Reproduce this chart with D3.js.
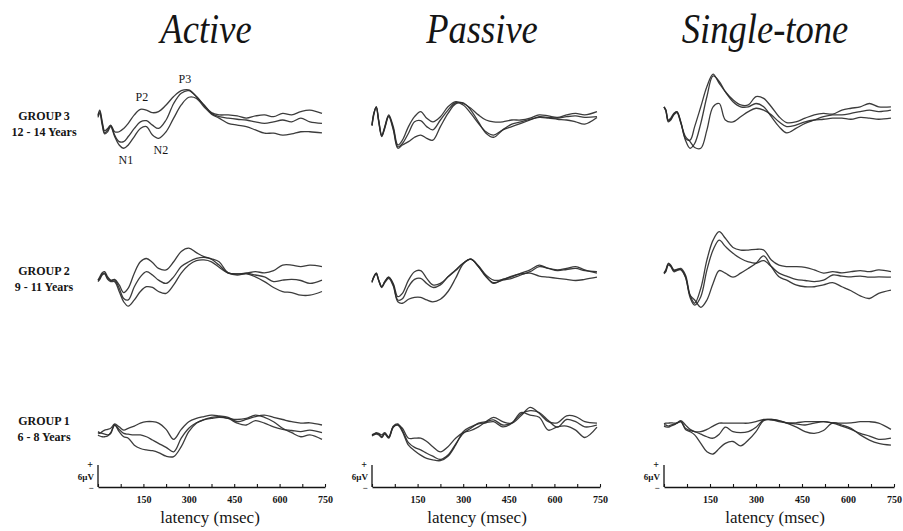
<!DOCTYPE html>
<html><head><meta charset="utf-8">
<script src="https://cdn.jsdelivr.net/npm/d3@7/dist/d3.min.js"></script>
<style>body{margin:0;background:#fff} svg{display:block}</style>
</head><body>
<svg id="c" width="903" height="531"></svg>
<script>
// ---------- DATA ----------
const latency = [0, 6, 14, 22, 32, 42, 55, 70, 85, 100, 120, 140, 160, 180, 200, 225, 250, 275, 300, 325, 350, 375, 400, 430, 460, 490, 520, 550, 580, 610, 640, 670, 700, 740];

const conditions = ["Active", "Passive", "Single-tone"];
const groupNames = ["GROUP 3", "GROUP 2", "GROUP 1"];
const groupAges = ["12 - 14 Years", "9 - 11 Years", "6 - 8 Years"];
const tickLabels = [150, 300, 450, 600, 750];
const tickMarks = [0, 75, 150, 225, 300, 375, 450, 525, 600, 675, 750];
const scaleLabel = "6\u00B5V";
const axisTitle = "latency (msec)";

const peakNames = ["P2", "P3", "N1", "N2"];
const peakLatency = [145, 287, 92, 208];
const peakAmp = [5.3, 10.1, -12.0, -9.3];

// amplitudes (µV, positive up), three traces per panel
const active3 = [
  [1.4, 2.7, -0.5, -2.9, -2.3, -1.4, -3.2, -3.2, -2.3, -0.9, 1.4, 2.9, 2.7, 2.0, 2.3, 4.1, 6.4, 8.0, 8.2, 6.4, 4.1, 2.0, 1.4, 1.4, 1.1, 0.5, 1.1, 1.4, 0.9, 1.8, 1.4, 2.3, 2.7, 1.8],
  [1.1, 2.3, -0.9, -3.5, -2.7, -1.6, -4.1, -5.9, -5.9, -4.5, -2.3, -0.5, -0.2, -1.4, -2.3, 0, 4.5, 7.3, 8.0, 6.4, 4.1, 1.8, 0.9, 0.5, 0.2, 0, -0.5, -0.9, -0.5, 0, -0.5, 0.5, -0.5, -0.9],
  [0.7, 1.8, -1.4, -3.8, -3.2, -1.8, -4.5, -6.8, -7.7, -6.8, -4.5, -2.3, -1.8, -4.1, -5.0, -3.2, 0.5, 4.1, 6.2, 5.9, 3.6, 1.6, 0.5, -0.9, -1.4, -1.8, -2.7, -3.6, -3.6, -4.1, -3.8, -3.2, -3.2, -3.5]
];
const passive3 = [
  [-1.4, 1.8, 3.6, 0, -4.1, -1.8, 1.4, -1.8, -6.8, -5.5, -1.8, 0.9, 2.3, 0.5, -0.5, 0.9, 3.6, 5.0, 4.5, 3.2, 1.4, 0, -0.5, -0.5, 0, 0, 0.5, 1.4, 1.1, 0.7, 1.4, 1.8, 1.4, 2.3],
  [-1.4, 1.8, 3.6, -0.2, -4.4, -2.0, 1.1, -2.3, -7.3, -6.4, -3.6, -0.5, -0.2, -1.8, -2.7, 0, 2.7, 4.7, 4.1, 1.8, -0.9, -3.2, -4.1, -2.7, -1.8, -0.9, 0, 0.9, 0.7, 0.5, 0.9, 1.1, 0.7, 0.9],
  [-1.6, 1.4, 3.5, -0.5, -4.5, -2.3, 0.9, -2.7, -7.7, -6.8, -5.9, -4.7, -4.1, -5.0, -5.5, -1.8, 1.8, 4.4, 4.7, 2.7, -0.5, -3.6, -4.7, -2.7, -1.1, -0.5, 0.2, 0.7, 0.5, 0.2, 0, -0.5, -1.1, 0.7]
];
const single3 = [
  [3.6, 2.7, 0, 0.5, 1.8, 2.3, -0.5, -5.0, -5.5, -1.8, 3.6, 9.1, 12.5, 10, 7.7, 5.5, 4.1, 4.1, 6.4, 5.9, 3.6, 0.9, -0.7, -0.5, 0.5, 1.4, 1.8, 1.6, 2.7, 3.2, 3.6, 4.5, 3.6, 3.6],
  [3.6, 2.7, -0.2, 0.2, 1.6, 2.3, -0.7, -5.5, -7.7, -6.4, -0.9, 6.4, 12, 10.5, 7.7, 5.0, 3.6, 3.6, 4.5, 3.6, 0.9, -1.8, -3.5, -2.3, -0.9, 0, 0.9, 1.4, 1.4, 1.8, 2.3, 2.7, 2.3, 2.7],
  [3.5, 2.5, -0.5, 0, 1.4, 2.0, -0.9, -4.5, -5.9, -7.5, -7.7, -2.7, 3.6, 4.5, 0, -0.5, 0.9, 2.3, 3.2, 2.7, 1.4, -0.5, -1.8, -1.4, -0.5, 0, 0.2, 0.5, 0.5, 0.2, 0.7, 0.5, 0.2, 0.5]
];
const active2 = [
  [-1.4, -0.5, 0.6, 0.9, -0.5, -1.4, -1.2, -2.7, -4.8, -3.6, 0.5, 3.6, 4.5, 3.4, 1.8, 1.4, 3.6, 6.4, 7.3, 6.1, 5.0, 4.4, 3.6, 0.6, 0.3, 0.5, 0.9, 0.6, 1.2, 2.7, 2.7, 2.3, 2.7, 2.3],
  [-1.5, -0.9, 0.3, 0.5, -0.9, -1.5, -1.4, -3.6, -6.4, -6.8, -3.2, -0.5, 0.9, 0, -1.4, -2.3, -0.5, 2.3, 3.6, 4.5, 4.8, 4.3, 2.7, 0.6, 0.3, 0.5, 0, -0.5, -1.8, -1.4, -1.2, -1.5, -2.3, -1.4],
  [-1.8, -1.2, 0, 0.3, -1.2, -1.8, -1.8, -4.5, -7.3, -8.5, -6.8, -4.5, -3.2, -3.4, -4.5, -5.0, -2.7, 0.5, 2.7, 3.9, 4.1, 3.6, 2.1, 0.5, 0, 0.3, -0.5, -1.8, -3.4, -4.5, -4.8, -5.5, -5.5, -4.5]
];
const passive2 = [
  [-1.8, -0.5, 0.5, -1.4, -3.2, -1.8, -0.6, -2.3, -5.9, -5.0, -1.4, 0.9, 1.2, -0.9, -2.7, -2.3, -0.5, 1.4, 3.2, 4.3, 2.3, -0.5, -2.1, -1.4, -0.9, 0, 0.9, 2.3, 1.8, 1.2, 1.5, 1.8, 1.2, 0.9],
  [-1.8, -0.5, 0.5, -1.4, -3.2, -1.8, -0.6, -2.7, -6.8, -6.5, -3.2, -1.2, -0.9, -2.3, -3.4, -2.7, -0.5, 1.2, 3.2, 4.3, 2.3, -0.3, -2.3, -1.2, -0.5, 0.5, 1.4, 2.7, 1.8, 1.4, 1.8, 2.3, 1.4, 0.5],
  [-2.1, -0.6, 0.3, -1.5, -3.4, -2.1, -0.9, -3.0, -7.3, -7.7, -6.6, -6.1, -6.1, -6.8, -7.3, -6.6, -4.5, -0.9, 3.0, 4.3, 2.5, 0, -1.4, -1.2, -0.3, 0.3, 0.5, -0.3, -0.6, -0.9, -1.2, -1.5, -1.2, -0.6]
];
const single2 = [
  [0.6, 1.4, 3.2, 2.7, 1.4, 1.5, 1.8, 0, -5.5, -7.7, -3.6, 4.1, 9.5, 11.8, 10, 7.5, 6.8, 6.8, 7.0, 6.8, 4.1, 2.7, 2.3, 2.3, 2.1, 1.4, 0.5, 0.9, 0.6, 0.9, 1.2, 0.9, 1.4, 0.9],
  [0.5, 1.2, 3.0, 2.5, 1.2, 1.4, 1.5, -0.5, -6.1, -8.2, -5.9, 1.4, 6.8, 9.5, 7.8, 5.9, 4.5, 3.6, 3.2, 3.9, 2.3, 0.5, -0.3, -1.2, -1.5, -1.8, -1.4, 0, -0.3, -0.5, -0.3, -0.6, -0.5, -0.6],
  [0.3, 0.9, 2.7, 2.3, 0.9, 1.2, 1.4, -0.6, -5.5, -6.8, -8.8, -6.8, -2.3, 1.2, 0.5, -0.6, 0.5, 1.8, 3.2, 5.2, 2.3, -0.5, -1.4, -2.7, -3.2, -3.2, -2.7, -2.1, -3.2, -4.3, -5.7, -6.4, -5.0, -4.1]
];
const active1 = [
  [-2.1, -2.3, -1.8, -1.4, -1.2, -0.9, 0.3, -0.5, -1.4, -0.9, -0.3, 0.5, 0.9, 0.9, 0.5, -1.2, -3.9, -1.2, 0.9, 1.8, 2.3, 2.7, 2.5, 2.1, 0.9, 1.5, 2.3, 2.7, 2.1, 1.5, 0.9, 0.5, 0.6, 0],
  [-1.8, -2.1, -2.3, -2.5, -2.7, -2.3, 0, -1.2, -2.3, -2.5, -2.7, -2.7, -3.2, -4.1, -5.0, -6.1, -7.3, -3.6, -0.9, 0.6, 1.4, 1.8, 2.1, 1.8, 0.5, 0, 1.2, 0.5, -0.5, -1.2, -1.5, -1.8, -1.4, -2.1],
  [-2.7, -3.0, -3.2, -3.2, -3.0, -2.1, 0, -1.8, -3.2, -3.6, -5.5, -6.4, -6.8, -7.0, -7.5, -8.5, -8.6, -5.9, -1.8, 0.5, 1.5, 2.1, 2.3, 1.8, 1.5, 1.8, 2.7, 2.1, 0.9, -0.9, -2.1, -3.2, -2.7, -3.9]
];
const passive1 = [
  [-2.7, -2.5, -2.1, -2.3, -2.7, -2.1, -3.2, -0.5, 0, -0.9, -3.6, -3.6, -3.6, -4.5, -5.9, -7.3, -5.9, -3.6, -2.1, -1.5, -0.5, 0.9, 2.1, 0.9, 0.5, 2.5, 4.8, 3.2, 0.9, 0.6, 2.5, 2.3, 0.9, 0.5],
  [-2.7, -2.5, -2.3, -2.5, -3.2, -2.3, -3.4, -0.3, 0.3, -1.5, -4.8, -6.1, -6.8, -7.7, -8.5, -9.4, -8.2, -5.2, -2.3, -0.9, 0.5, 0.9, 1.4, 0, 0.6, 3.0, 3.9, 3.4, 1.2, -0.6, 1.5, 0.9, -0.5, 0],
  [-3.0, -2.7, -2.5, -2.7, -3.4, -2.5, -3.6, -0.6, 0, -1.8, -5.5, -7.0, -8.2, -9.1, -9.5, -9.7, -8.5, -5.5, -1.8, -0.5, 0.3, 0.6, 0.9, -0.5, 0.5, 3.4, 2.7, 2.1, -1.4, -0.5, -0.3, -1.4, -3.4, -0.6]
];
const single1 = [
  [0.3, 0.5, 0.5, 0.6, 0.5, 0.6, 1.2, 0, -1.2, -1.8, -1.8, -1.2, -0.3, 0.5, 0.5, 0.5, 0.5, 0.5, 0.9, 1.5, 1.5, 1.2, 0.6, 0.6, 0.9, 0.9, 0.9, 0.6, 0.5, 0.6, 0.9, 0.9, 0.5, -1.2],
  [0, 0, -0.3, 0, 0.2, 0.5, 0.9, -0.9, -1.5, -1.8, -2.5, -3.2, -3.6, -2.5, -0.6, -1.8, -2.1, -1.8, -0.6, 1.4, 1.5, 1.2, 0.6, 0.3, 0, 0.5, 0.9, 0.5, -0.3, -1.2, -2.3, -3.0, -3.9, -3.6],
  [-0.3, -0.5, -0.6, -0.3, 0, 0.5, 0.9, -1.2, -1.8, -2.7, -5.0, -7.3, -7.9, -6.4, -5.0, -4.5, -5.7, -4.1, -1.8, 1.2, 1.4, 0.9, 0.5, -0.5, -1.8, -2.3, -1.5, 0.6, 0, -0.9, -2.7, -4.1, -5.0, -5.5]
];

const panels = [
  [active3, passive3, single3],
  [active2, passive2, single2],
  [active1, passive1, single1]
];

// ---------- LAYOUT / STYLE ----------
const svg = d3.select("#c");
const serif = "'Liberation Serif','Times New Roman',serif";
const ink = "#151515";
const traceColor = "#2b2b2b";
const colRange = [[98, 325], [372, 600], [664, 894]];
const titleX = [206, 482, 765];
const rowBase = [120, 275, 425];
const pxPerUV = 3.67;
const axisY = 487;
const barUV = 6;
const latencyLabelX = [210, 477, 775];

// titles
conditions.forEach((c, i) => {
  svg.append("text")
    .attr("transform", `translate(${titleX[i]},43) scale(0.87,1)`)
    .attr("text-anchor", "middle")
    .attr("font-family", serif).attr("font-style", "italic")
    .attr("font-size", 42).attr("fill", ink)
    .text(c);
});

// row labels
groupNames.forEach((g, r) => {
  const t = svg.append("text").attr("font-family", serif).attr("font-weight", "bold")
    .attr("font-size", 12).attr("fill", ink).attr("text-anchor", "middle");
  t.append("tspan").attr("x", 44).attr("y", rowBase[r]).text(g);
  t.append("tspan").attr("x", 44).attr("y", rowBase[r] + 16).text(groupAges[r]);
});

const xScales = colRange.map(rg => d3.scaleLinear().domain([0, 750]).range(rg));
const yScales = rowBase.map(b => d3.scaleLinear().domain([0, 10]).range([b, b - 10 * pxPerUV]));

// traces
panels.forEach((row, r) => {
  row.forEach((traces, c) => {
    const line = d3.line()
      .x((d, i) => xScales[c](latency[i]))
      .y(d => yScales[r](d))
      .curve(d3.curveCatmullRom.alpha(0.5));
    svg.append("g").selectAll("path").data(traces).join("path")
      .attr("d", line)
      .attr("fill", "none")
      .attr("stroke", traceColor)
      .attr("stroke-width", 1.3)
      .attr("stroke-linejoin", "round")
      .attr("stroke-opacity", 0.92);
  });
});

// peak labels on Active / Group 3
svg.append("g").selectAll("text").data(peakNames).join("text")
  .attr("x", (d, i) => xScales[0](peakLatency[i]))
  .attr("y", (d, i) => yScales[0](peakAmp[i]))
  .attr("text-anchor", "middle")
  .attr("font-family", serif).attr("font-size", 12).attr("fill", ink)
  .text(d => d);

// axes with calibration bars
const barScale = d3.scaleLinear().domain([0, barUV]).range([axisY, axisY - barUV * pxPerUV]);
colRange.forEach((rg, c) => {
  const xs = xScales[c];
  const ax = d3.axisBottom(xs)
    .tickValues(tickMarks)
    .tickSizeInner(-3).tickSizeOuter(0).tickPadding(9)
    .tickFormat(d => tickLabels.includes(d) ? d : "");
  const g = svg.append("g").attr("transform", `translate(0,${axisY})`).call(ax);
  g.select(".domain").attr("stroke", ink).attr("stroke-width", 1.3);
  g.selectAll(".tick line").attr("stroke", ink).attr("stroke-width", 1.1);
  g.selectAll(".tick text").attr("font-family", serif).attr("font-weight", "bold")
    .attr("font-size", 10).attr("fill", ink);

  const x0 = xs(0);
  svg.append("line")
    .attr("x1", x0).attr("x2", x0)
    .attr("y1", barScale(0)).attr("y2", barScale(barUV))
    .attr("stroke", ink).attr("stroke-width", 1.3);
  svg.append("text").attr("x", x0 - 8).attr("y", barScale(barUV) + 3)
    .attr("text-anchor", "middle").attr("font-family", serif).attr("font-weight", "bold")
    .attr("font-size", 10).attr("fill", ink).text("+");
  svg.append("text").attr("x", x0 - 7).attr("y", barScale(0) + 4)
    .attr("text-anchor", "middle").attr("font-family", serif).attr("font-weight", "bold")
    .attr("font-size", 9).attr("fill", ink).text("\u2212");
  svg.append("text").attr("x", x0 - 4).attr("y", barScale(1.9))
    .attr("text-anchor", "end").attr("font-family", serif).attr("font-weight", "bold")
    .attr("font-size", 9).attr("fill", ink).text(scaleLabel);

  svg.append("text").attr("x", latencyLabelX[c]).attr("y", 523)
    .attr("text-anchor", "middle").attr("font-family", serif)
    .attr("font-size", 17).attr("fill", ink).text(axisTitle);
});
</script>
</body></html>
